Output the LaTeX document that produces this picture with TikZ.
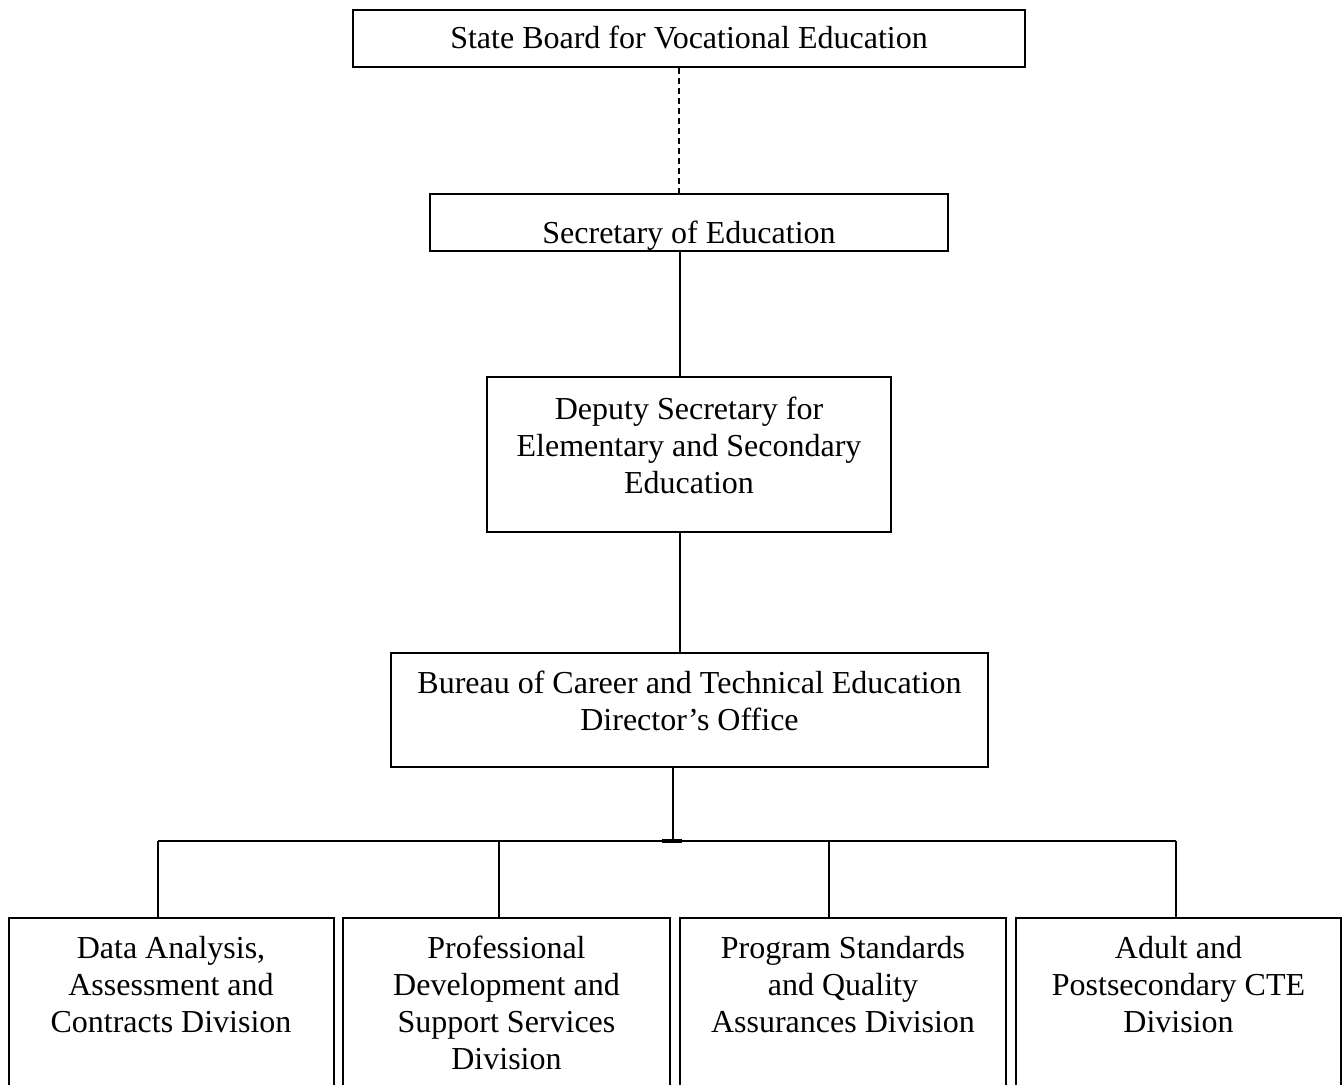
\documentclass[tikz,border=0pt]{standalone}
\usepackage{fontspec}
\setmainfont{Liberation Serif}
\begin{document}
\begin{tikzpicture}[x=1pt,y=-1pt,
  box/.style={draw=black, line width=2pt, rectangle, inner sep=0pt, fill=none},
  lbl/.style={anchor=base, inner sep=0pt, font=\fontsize{32}{37}\selectfont},
  conn/.style={draw=black, line width=2pt},
  dashconn/.style={draw=black, line width=1.6pt, dash pattern=on 6pt off 4pt}]
\useasboundingbox (0,0) rectangle (1343,1084);
\clip (0,0) rectangle (1343,1084);
\fill[white] (0,0) rectangle (1343,1084);
% boxes
\node[box, minimum width=672pt, minimum height=57pt] (sbve) at (689,38.5) {};
\node[box, minimum width=518pt, minimum height=57pt] (sec) at (689,222.5) {};
\node[box, minimum width=404pt, minimum height=155pt] (dep) at (689,454.5) {};
\node[box, minimum width=597pt, minimum height=114pt] (bur) at (689.5,710) {};
\node[box, minimum width=325pt, minimum height=202pt] (b1) at (171,1019) {};
\node[box, minimum width=327pt, minimum height=202pt] (b2) at (506.5,1019) {};
\node[box, minimum width=326pt, minimum height=202pt] (b3) at (843,1019) {};
\node[box, minimum width=325pt, minimum height=202pt] (b4) at (1178.5,1019) {};
% labels
\node[lbl] (sbvet) at (689,48) {State Board for Vocational Education};
\node[lbl] (sect) at (689,243) {Secretary of Education};
\node[lbl] (dept) at (689,419) {\begin{tabular}[t]{@{}c@{}}Deputy Secretary for\\Elementary and Secondary\\Education\end{tabular}};
\node[lbl] (burt) at (689.5,693) {\begin{tabular}[t]{@{}c@{}}Bureau of Career and Technical Education\\Director’s Office\end{tabular}};
\node[lbl] (b1t) at (171,958) {\begin{tabular}[t]{@{}c@{}}Data Analysis,\\Assessment and\\Contracts Division\end{tabular}};
\node[lbl] (b2t) at (506.5,958) {\begin{tabular}[t]{@{}c@{}}Professional\\Development and\\Support Services\\Division\end{tabular}};
\node[lbl] (b3t) at (843,958) {\begin{tabular}[t]{@{}c@{}}Program Standards\\and Quality\\Assurances Division\end{tabular}};
\node[lbl] (b4t) at (1178.5,958) {\begin{tabular}[t]{@{}c@{}}Adult and\\Postsecondary CTE\\Division\end{tabular}};
% connectors
\draw[dashconn] ([xshift=-10pt]sbve.south) -- ([xshift=-10pt]sec.north);
\draw[conn] ([xshift=-9pt]sec.south) -- ([xshift=-9pt]dep.north);
\draw[conn] ([xshift=-9pt]dep.south) -- ([xshift=-9pt]dep.south |- bur.north);
\coordinate (jt) at (673,841);
\coordinate (j1) at (158,841);
\coordinate (j2) at (499,841);
\coordinate (j3) at (829,841);
\coordinate (j4) at (1176,841);
\draw[conn] (jt |- bur.south) -- (jt);
\draw[conn] (j1) -- (j4);
\draw[draw=black, line width=3.5pt] ([xshift=-11pt]jt) -- ([xshift=9pt]jt);
\draw[conn] (j1) -- (j1 |- b1.north);
\draw[conn] (j2) -- (j2 |- b2.north);
\draw[conn] (j3) -- (j3 |- b3.north);
\draw[conn] (j4) -- (j4 |- b4.north);
\end{tikzpicture}
\end{document}
